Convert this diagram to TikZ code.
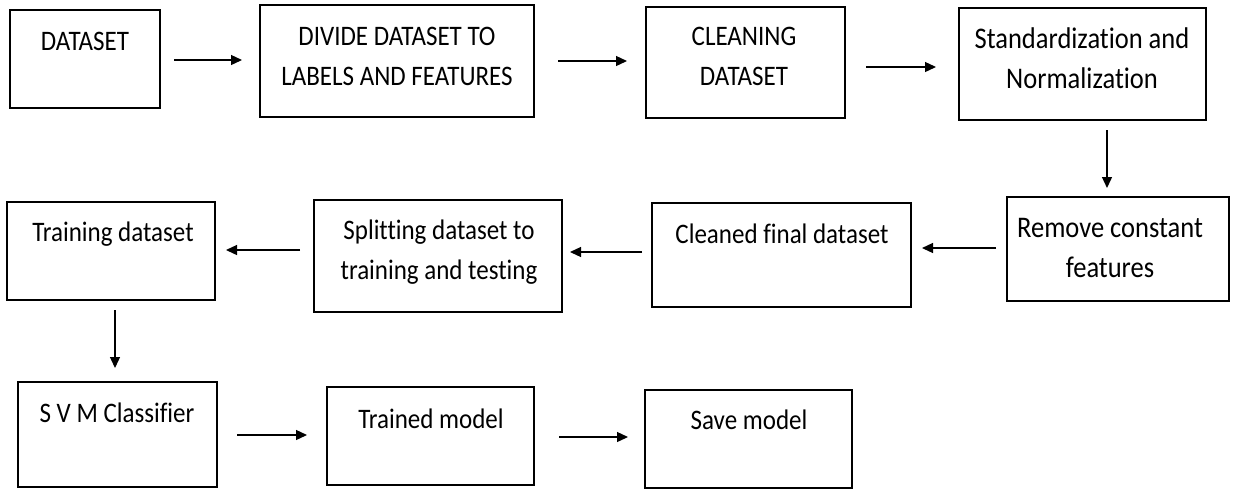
\documentclass[tikz,border=0pt]{standalone}
\usepackage{fontspec}
\setmainfont{Carlito}[Ligatures=NoCommon]
\usetikzlibrary{arrows.meta}
\tikzset{
  box/.style={draw, line width=2.6pt, inner sep=0pt},
  lbl/.style={anchor=base, inner sep=0pt, font=\fontsize{25}{35.4}\selectfont},
  lblbig/.style={lbl, font=\fontsize{26.5}{35.4}\selectfont},
  arr/.style={line width=1.3pt, -{Triangle[length=11pt,width=10pt]}}
}
\newcommand{\tall}[1]{\scalebox{1}[1.13]{#1}}
\newcommand{\twolines}[2]{\tall{\begin{tabular}[t]{@{}c@{}}#1\\#2\end{tabular}}}
\begin{document}
\begin{tikzpicture}[x=1pt,y=-1pt]
\useasboundingbox (0,0) rectangle (1233,491);
% boxes
\node[box, minimum width=150, minimum height=98]  (dataset)  at (85,59) {};
\node[box, minimum width=274, minimum height=112] (divide)   at (397,61) {};
\node[box, minimum width=199, minimum height=111] (cleaning) at (745.5,62.5) {};
\node[box, minimum width=247, minimum height=112] (standard) at (1082.5,64) {};
\node[box, minimum width=222, minimum height=104] (remove)   at (1118,249) {};
\node[box, minimum width=259, minimum height=104] (cleaned)  at (781.5,255) {};
\node[box, minimum width=248, minimum height=112] (splitting) at (438,256) {};
\node[box, minimum width=208, minimum height=98]  (training) at (111,251) {};
\node[box, minimum width=199, minimum height=105] (svm)      at (117.5,434.5) {};
\node[box, minimum width=207, minimum height=98]  (trained)  at (430.5,436) {};
\node[box, minimum width=207, minimum height=98]  (save)     at (748.5,439) {};
% texts
\node[lbl] (dataset-t) at (85,50) {\tall{DATASET}};
\node[lbl] (divide-t) at (397,45) {\twolines{DIVIDE DATASET TO}{LABELS AND FEATURES}};
\node[lbl] (cleaning-t) at (744,45) {\twolines{CLEANING}{DATASET}};
\node[lblbig] (standard-t) at (1082,48) {\twolines{Standardization and}{Normalization}};
\node[lblbig] (remove-t) at (1110,237) {\twolines{Remove constant}{features}};
\node[lbl] (cleaned-t) at (782,243) {\tall{Cleaned final dataset}};
\node[lbl] (splitting-t) at (439,239) {\twolines{Splitting dataset to}{training and testing}};
\node[lbl] (training-t) at (113,241) {\tall{Training dataset}};
\node[lbl] (svm-t) at (117,422) {\tall{S V M Classifier}};
\node[lbl] (trained-t) at (431,428) {\tall{Trained model}};
\node[lbl] (save-t) at (749,429) {\tall{Save model}};
% arrow ends
\coordinate (a1s) at (174,60);   \coordinate (a1e) at (242,60);
\coordinate (a2s) at (558,61);   \coordinate (a2e) at (627,61);
\coordinate (a3s) at (866,67);   \coordinate (a3e) at (936,67);
\coordinate (a4s) at (1107,130); \coordinate (a4e) at (1107,188);
\coordinate (a5s) at (996,248);  \coordinate (a5e) at (922,248);
\coordinate (a6s) at (642,252);  \coordinate (a6e) at (570,252);
\coordinate (a7s) at (300,250);  \coordinate (a7e) at (226,250);
\coordinate (a8s) at (115,310);  \coordinate (a8e) at (115,368);
\coordinate (a9s) at (237,435);  \coordinate (a9e) at (307,435);
\coordinate (a10s) at (559,437); \coordinate (a10e) at (628,437);
\draw[arr] (a1s) -- (a1e);
\draw[arr] (a2s) -- (a2e);
\draw[arr] (a3s) -- (a3e);
\draw[arr] (a4s) -- (a4e);
\draw[arr] (a5s) -- (a5e);
\draw[arr] (a6s) -- (a6e);
\draw[arr] (a7s) -- (a7e);
\draw[arr] (a8s) -- (a8e);
\draw[arr] (a9s) -- (a9e);
\draw[arr] (a10s) -- (a10e);
\end{tikzpicture}
\end{document}
